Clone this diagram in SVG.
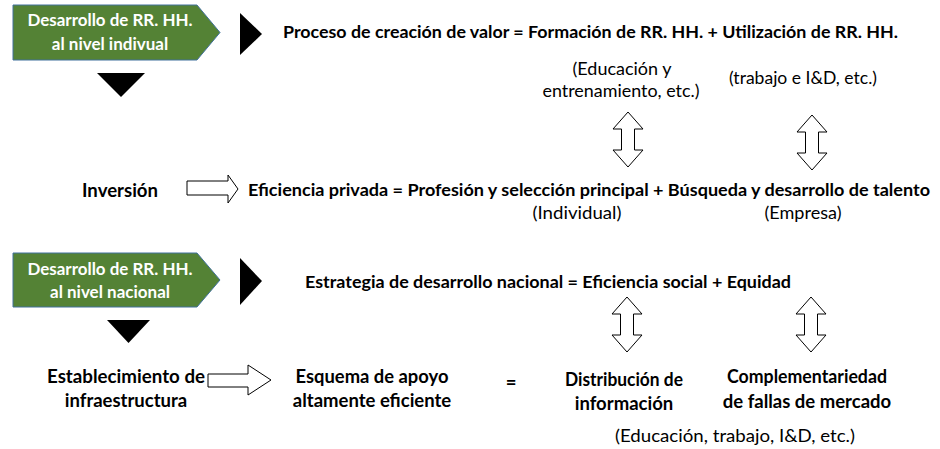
<svg xmlns="http://www.w3.org/2000/svg" width="940" height="449" viewBox="0 0 940 449">
<style>
text{font-family:Lato,"Open Sans","Liberation Sans",sans-serif;fill:#000}
.b{font-weight:bold;font-size:18.5px}
.l{font-weight:bold;font-size:17px}
.n{font-size:18px}
.w{fill:#fff;font-weight:bold;font-size:17px}
.c{text-anchor:middle}
.box{fill:#548235;stroke:#41719C;stroke-width:1}
.tri{fill:#000}
.da{fill:#fff;stroke:#000;stroke-width:1}
</style>
<rect width="940" height="449" fill="#fff"/>
<g id="box-individual">
<path class="box" d="M13,5 L197,5 L220,32.5 L197,60 L13,60 Z"/>
<text class="w c" x="110" y="26" textLength="165" lengthAdjust="spacingAndGlyphs">Desarrollo de RR. HH.</text>
<text class="w c" x="110" y="50">al nivel indivual</text>
</g>
<g id="box-nacional">
<path class="box" d="M13,253 L197,253 L220,280 L197,307 L13,307 Z"/>
<text class="w c" x="110" y="275" textLength="165" lengthAdjust="spacingAndGlyphs">Desarrollo de RR. HH.</text>
<text class="w c" x="110" y="298">al nivel nacional</text>
</g>
<g id="proceso">
<text class="l" x="283" y="38" textLength="615" lengthAdjust="spacingAndGlyphs">Proceso de creación de valor = Formación de RR. HH. + Utilización de RR. HH.</text>
</g>
<g id="educacion">
<text class="n c" x="622" y="75" textLength="99" lengthAdjust="spacingAndGlyphs">(Educación y</text>
<text class="n c" x="621" y="97" textLength="157" lengthAdjust="spacingAndGlyphs">entrenamiento, etc.)</text>
</g>
<g id="trabajo">
<text class="n c" x="803" y="84" textLength="148" lengthAdjust="spacingAndGlyphs">(trabajo e I&amp;D, etc.)</text>
</g>
<g id="inversion">
<text class="b" x="82" y="197" textLength="76" lengthAdjust="spacingAndGlyphs">Inversión</text>
</g>
<g id="eficiencia-privada">
<text class="l" x="248" y="196" textLength="682" lengthAdjust="spacingAndGlyphs">Eficiencia privada = Profesión y selección principal + Búsqueda y desarrollo de talento</text>
<text class="n c" x="577" y="219" textLength="89" lengthAdjust="spacingAndGlyphs">(Individual)</text>
<text class="n c" x="803" y="219" textLength="77" lengthAdjust="spacingAndGlyphs">(Empresa)</text>
</g>
<g id="estrategia">
<text class="l" x="305" y="288" textLength="486" lengthAdjust="spacingAndGlyphs">Estrategia de desarrollo nacional = Eficiencia social + Equidad</text>
</g>
<g id="establecimiento">
<text class="b c" x="126" y="383" textLength="158" lengthAdjust="spacingAndGlyphs">Establecimiento de</text>
<text class="b c" x="126" y="407">infraestructura</text>
</g>
<g id="esquema">
<text class="b c" x="372" y="383" textLength="153" lengthAdjust="spacingAndGlyphs">Esquema de apoyo</text>
<text class="b c" x="372" y="407">altamente eficiente</text>
</g>
<g id="igual">
<text class="b c" x="511" y="389">=</text>
</g>
<g id="distribucion">
<text class="b c" x="624" y="386" textLength="118" lengthAdjust="spacingAndGlyphs">Distribución de</text>
<text class="b c" x="624" y="410">información</text>
</g>
<g id="complementariedad">
<text class="b c" x="807" y="383" textLength="160" lengthAdjust="spacingAndGlyphs">Complementariedad</text>
<text class="b c" x="807" y="408">de fallas de mercado</text>
</g>
<g id="nota-final">
<text class="n c" x="735" y="442" textLength="240" lengthAdjust="spacingAndGlyphs">(Educación, trabajo, I&amp;D, etc.)</text>
</g>
<g id="connectors">
<path class="tri" d="M240,13 L262,34 L240,55 Z"/>
<path class="tri" d="M97,73 L145,73 L121,97 Z"/>
<path class="tri" d="M240,258 L262,281 L240,305 Z"/>
<path class="tri" d="M107,320 L150,320 L128.5,343 Z"/>
<path class="da" d="M628,112 L643,129 L634.5,129 L634.5,150 L643,150 L628,167 L613,150 L621.5,150 L621.5,129 L613,129 Z"/>
<path class="da" d="M812,115 L827,132 L818.5,132 L818.5,153 L827,153 L812,170 L797,153 L805.5,153 L805.5,132 L797,132 Z"/>
<path class="da" d="M627,297 L642,314 L633.5,314 L633.5,335 L642,335 L627,352 L612,335 L620.5,335 L620.5,314 L612,314 Z"/>
<path class="da" d="M811,297 L826,314 L817.5,314 L817.5,335 L826,335 L811,352 L796,335 L804.5,335 L804.5,314 L796,314 Z"/>
<path class="da" d="M187,181 L228,181 L228,175 L238,189 L228,203 L228,195 L187,195 Z"/>
<path class="da" d="M208,374 L248,374 L248,365 L271,380 L248,395 L248,387 L208,387 Z"/>
</g>
</svg>
